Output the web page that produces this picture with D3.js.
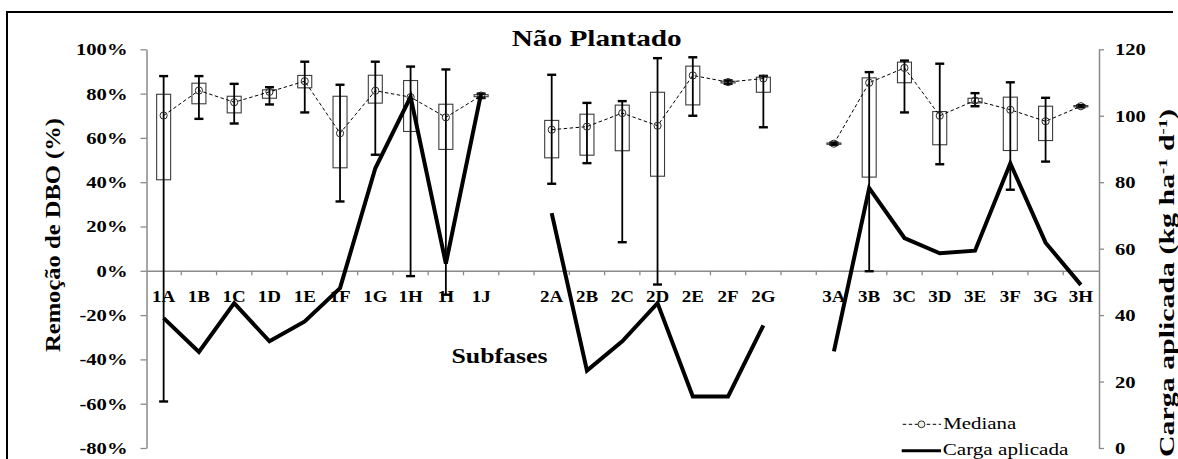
<!DOCTYPE html>
<html><head><meta charset="utf-8">
<script src="https://cdn.jsdelivr.net/npm/d3@7"></script>
<style>
html,body{margin:0;padding:0;background:#fff;}
svg{display:block;}
text{font-family:"Liberation Serif","Times New Roman",serif;fill:#000;}
</style></head><body>
<svg id="chart" width="1178" height="459"></svg>
<script>
// Subfases de cada fase de operação
const fase1 = ["1A","1B","1C","1D","1E","1F","1G","1H","1I","1J"];
const fase2 = ["2A","2B","2C","2D","2E","2F","2G"];
const fase3 = ["3A","3B","3C","3D","3E","3F","3G","3H"];
const subfases = [...fase1, ...fase2, ...fase3];

// Remoção de DBO (%) por subfase: mínimo, quartis, mediana e máximo
const minimo   = [-59.0, 68.6, 66.5, 75.1, 71.5, 31.3, 52.4, -2.4, -10.8, 78.0,
                  39.3, 48.6, 12.9, -6.2, 70.0, 84.4, 64.8,
                  56.9, -0.2, 71.5, 48.1, 74.3, 36.6, 49.3, 73.8];
const quartil1 = [41.1, 75.4, 71.3, 77.9, 82.6, 46.5, 75.7, 62.9, 54.8, 78.6,
                  51.0, 52.2, 54.2, 42.7, 74.9, 84.8, 80.6,
                  57.1, 42.3, 84.9, 56.9, 75.8, 54.3, 58.8, 74.0];
const mediana  = [70.1, 81.4, 76.1, 80.8, 85.6, 62.1, 81.3, 78.4, 69.3, 79.1,
                  63.7, 65.1, 71.2, 65.5, 88.2, 85.2, 86.8,
                  57.4, 84.9, 91.6, 70.0, 76.9, 72.7, 67.5, 74.3];
const quartil3 = [79.7, 84.7, 78.8, 81.7, 88.2, 78.8, 88.3, 85.9, 75.2, 79.5,
                  67.9, 70.7, 74.8, 80.6, 92.4, 85.6, 87.4,
                  57.7, 87.1, 94.2, 71.9, 77.9, 78.4, 74.3, 74.6];
const maximo   = [87.9, 87.9, 84.4, 82.9, 94.4, 84.0, 94.4, 92.2, 90.9, 80.0,
                  88.5, 75.8, 76.6, 96.0, 96.4, 86.0, 88.0,
                  57.9, 89.7, 94.9, 93.5, 80.2, 85.1, 78.1, 74.8];

// Carga aplicada (kg ha-1 d-1) por subfase
const carga = [39.1, 28.9, 43.6, 32.1, 38.1, 48.1, 84.2, 105.7, 55.5, 106.8,
               70.7, 23.3, 32.1, 43.6, 15.5, 15.5, 36.9,
               29.1, 78.2, 63.2, 58.6, 59.4, 85.7, 61.8, 49.1];

// Marcas dos eixos
const ticksRemocao = [-80, -60, -40, -20, 0, 20, 40, 60, 80, 100];
const ticksCarga = [0, 20, 40, 60, 80, 100, 120];

const FONTE = '"Liberation Serif","Times New Roman",serif';
const svg = d3.select("#chart").attr("font-family", FONTE);
const AXIS = "#8a8a8a";

// Band scale with an empty slot between the three phases
const dominio = [...fase1, "sep1", ...fase2, "sep2", ...fase3];
const x = d3.scaleBand().domain(dominio).range([146, 1098.5]).padding(0);
const cx = c => x(c) + x.bandwidth() / 2;
const yL = d3.scaleLinear().domain([-80, 100]).range([448, 49.3]);
const yR = d3.scaleLinear().domain([0, 120]).range([448, 49.3]);

const dados = subfases.map((c, i) => ({
  c, fase: c[0], min: minimo[i], q1: quartil1[i], med: mediana[i],
  q3: quartil3[i], max: maximo[i], carga: carga[i]
}));
const porFase = d3.groups(dados, d => d.fase).map(g => g[1]);

// Frame
svg.append("path").attr("d", "M7,459V12H1173")
  .attr("fill", "none").attr("stroke", "#000").attr("stroke-width", 2);

function estiloEixo(g) {
  g.attr("font-family", FONTE);
  g.select(".domain").attr("stroke", AXIS).attr("stroke-width", 1.5);
  g.selectAll(".tick line").attr("stroke", AXIS).attr("stroke-width", 1.3);
}

// Left axis
const sL = 1.25;
const gL = svg.append("g").attr("transform", "translate(146.5,0)")
  .call(d3.axisLeft(yL).tickValues(ticksRemocao).tickSize(6).tickSizeOuter(0)
    .tickFormat(d => d + "%"))
  .call(estiloEixo);
gL.selectAll(".tick text").attr("font-size", 16.5)
  .attr("font-weight", "bold").attr("x", -19 / sL).attr("dy", "0.33em")
  .attr("transform", `scale(${sL},1)`);

// Right axis
const gR = svg.append("g").attr("transform", "translate(1099,0)")
  .call(d3.axisRight(yR).tickValues(ticksCarga).tickSize(5).tickSizeOuter(0))
  .call(estiloEixo);
gR.selectAll(".tick text").attr("font-size", 16.5)
  .attr("font-weight", "bold").attr("x", 16 / sL).attr("dy", "0.33em")
  .attr("transform", `scale(${sL},1)`);

// Category axis on the zero line
const sX = 1.12;
const gX = svg.append("g").attr("transform", `translate(0,${yL(0)})`)
  .call(d3.axisBottom(x).tickSize(0).tickSizeOuter(0)
    .tickFormat(d => d.startsWith("sep") ? "" : d))
  .call(estiloEixo);
gX.selectAll(".tick text").attr("font-size", 17)
  .attr("font-weight", "bold").attr("y", 31).attr("dy", null)
  .attr("transform", `scale(${sX},1)`);
gX.selectAll("line.limite").data(dominio.slice(1)).join("line")
  .attr("class", "limite")
  .attr("x1", d => x(d)).attr("x2", d => x(d)).attr("y1", 0).attr("y2", 4.5)
  .attr("stroke", AXIS).attr("stroke-width", 1.3);

// Boxes (interquartile range)
svg.append("g").selectAll("rect").data(dados).join("rect")
  .attr("x", d => cx(d.c) - 7).attr("width", 14)
  .attr("y", d => yL(d.q3)).attr("height", d => yL(d.q1) - yL(d.q3))
  .attr("fill", "none").attr("stroke", "#3c3c3c").attr("stroke-width", 1.1);

// Whiskers
const gW = svg.append("g").attr("stroke", "#000");
gW.selectAll("line.haste").data(dados).join("line").attr("class", "haste")
  .attr("x1", d => cx(d.c)).attr("x2", d => cx(d.c))
  .attr("y1", d => yL(d.max)).attr("y2", d => yL(d.min)).attr("stroke-width", 1.8);
["min", "max"].forEach(k => {
  gW.selectAll("line.cap-" + k).data(dados).join("line").attr("class", "cap-" + k)
    .attr("x1", d => cx(d.c) - 4.5).attr("x2", d => cx(d.c) + 4.5)
    .attr("y1", d => yL(d[k])).attr("y2", d => yL(d[k])).attr("stroke-width", 2.4);
});

// Median line and markers
const linhaMed = d3.line().x(d => cx(d.c)).y(d => yL(d.med));
svg.append("g").selectAll("path").data(porFase).join("path")
  .attr("d", linhaMed).attr("fill", "none").attr("stroke", "#000")
  .attr("stroke-width", 1).attr("stroke-dasharray", "3.5,2.5");
svg.append("g").selectAll("circle").data(dados).join("circle")
  .attr("cx", d => cx(d.c)).attr("cy", d => yL(d.med)).attr("r", 3.6)
  .attr("fill", "none").attr("stroke", "#2a2a2a").attr("stroke-width", 1);

// Applied load line
const linhaCarga = d3.line().x(d => cx(d.c)).y(d => yR(d.carga));
svg.append("g").selectAll("path").data(porFase).join("path")
  .attr("d", linhaCarga).attr("fill", "none").attr("stroke", "#000")
  .attr("stroke-width", 4).attr("stroke-linejoin", "miter");

// Titles (start-anchored, stretched to their full length)
function texto(x0, y0, len, size, conteudo, rot) {
  const t = svg.append("text")
    .attr("transform", `translate(${x0},${y0})` + (rot ? " rotate(-90)" : ""))
    .attr("x", 0).attr("y", 0).attr("font-size", size).attr("font-weight", "bold")
    .attr("textLength", len).attr("lengthAdjust", "spacingAndGlyphs");
  if (conteudo) t.text(conteudo);
  return t;
}
texto(511.7, 45.7, 170, 24, "Não Plantado");
texto(451.5, 362.7, 96, 21, "Subfases");
texto(60, 352, 234, 22, "Remoção de DBO (%)", true);

const tR = texto(1174, 457, 348, 21, null, true);
tR.append("tspan").text("Carga aplicada (kg ha");
tR.append("tspan").attr("dy", -7).attr("font-size", 13).text("-1");
tR.append("tspan").attr("dy", 7).text(" d");
tR.append("tspan").attr("dy", -7).attr("font-size", 13).text("-1");
tR.append("tspan").attr("dy", 7).text(")");

// Legend
const leg = svg.append("g");
leg.append("line").attr("x1", 902.7).attr("x2", 941).attr("y1", 424.3).attr("y2", 424.3)
  .attr("stroke", "#000").attr("stroke-width", 1).attr("stroke-dasharray", "3.5,2.5");
leg.append("circle").attr("cx", 921.5).attr("cy", 424.3).attr("r", 3.4)
  .attr("fill", "#f3f0e4").attr("stroke", "#2a2a2a").attr("stroke-width", 1);
leg.append("text").attr("x", 943.3).attr("y", 429.3).attr("font-size", 16.5)
  .attr("textLength", 73).attr("lengthAdjust", "spacingAndGlyphs").text("Mediana");
leg.append("line").attr("x1", 901.7).attr("x2", 941).attr("y1", 450.7).attr("y2", 450.7)
  .attr("stroke", "#000").attr("stroke-width", 3);
leg.append("text").attr("x", 942.7).attr("y", 455).attr("font-size", 16.5)
  .attr("textLength", 125.7).attr("lengthAdjust", "spacingAndGlyphs").text("Carga aplicada");
</script>
</body></html>
